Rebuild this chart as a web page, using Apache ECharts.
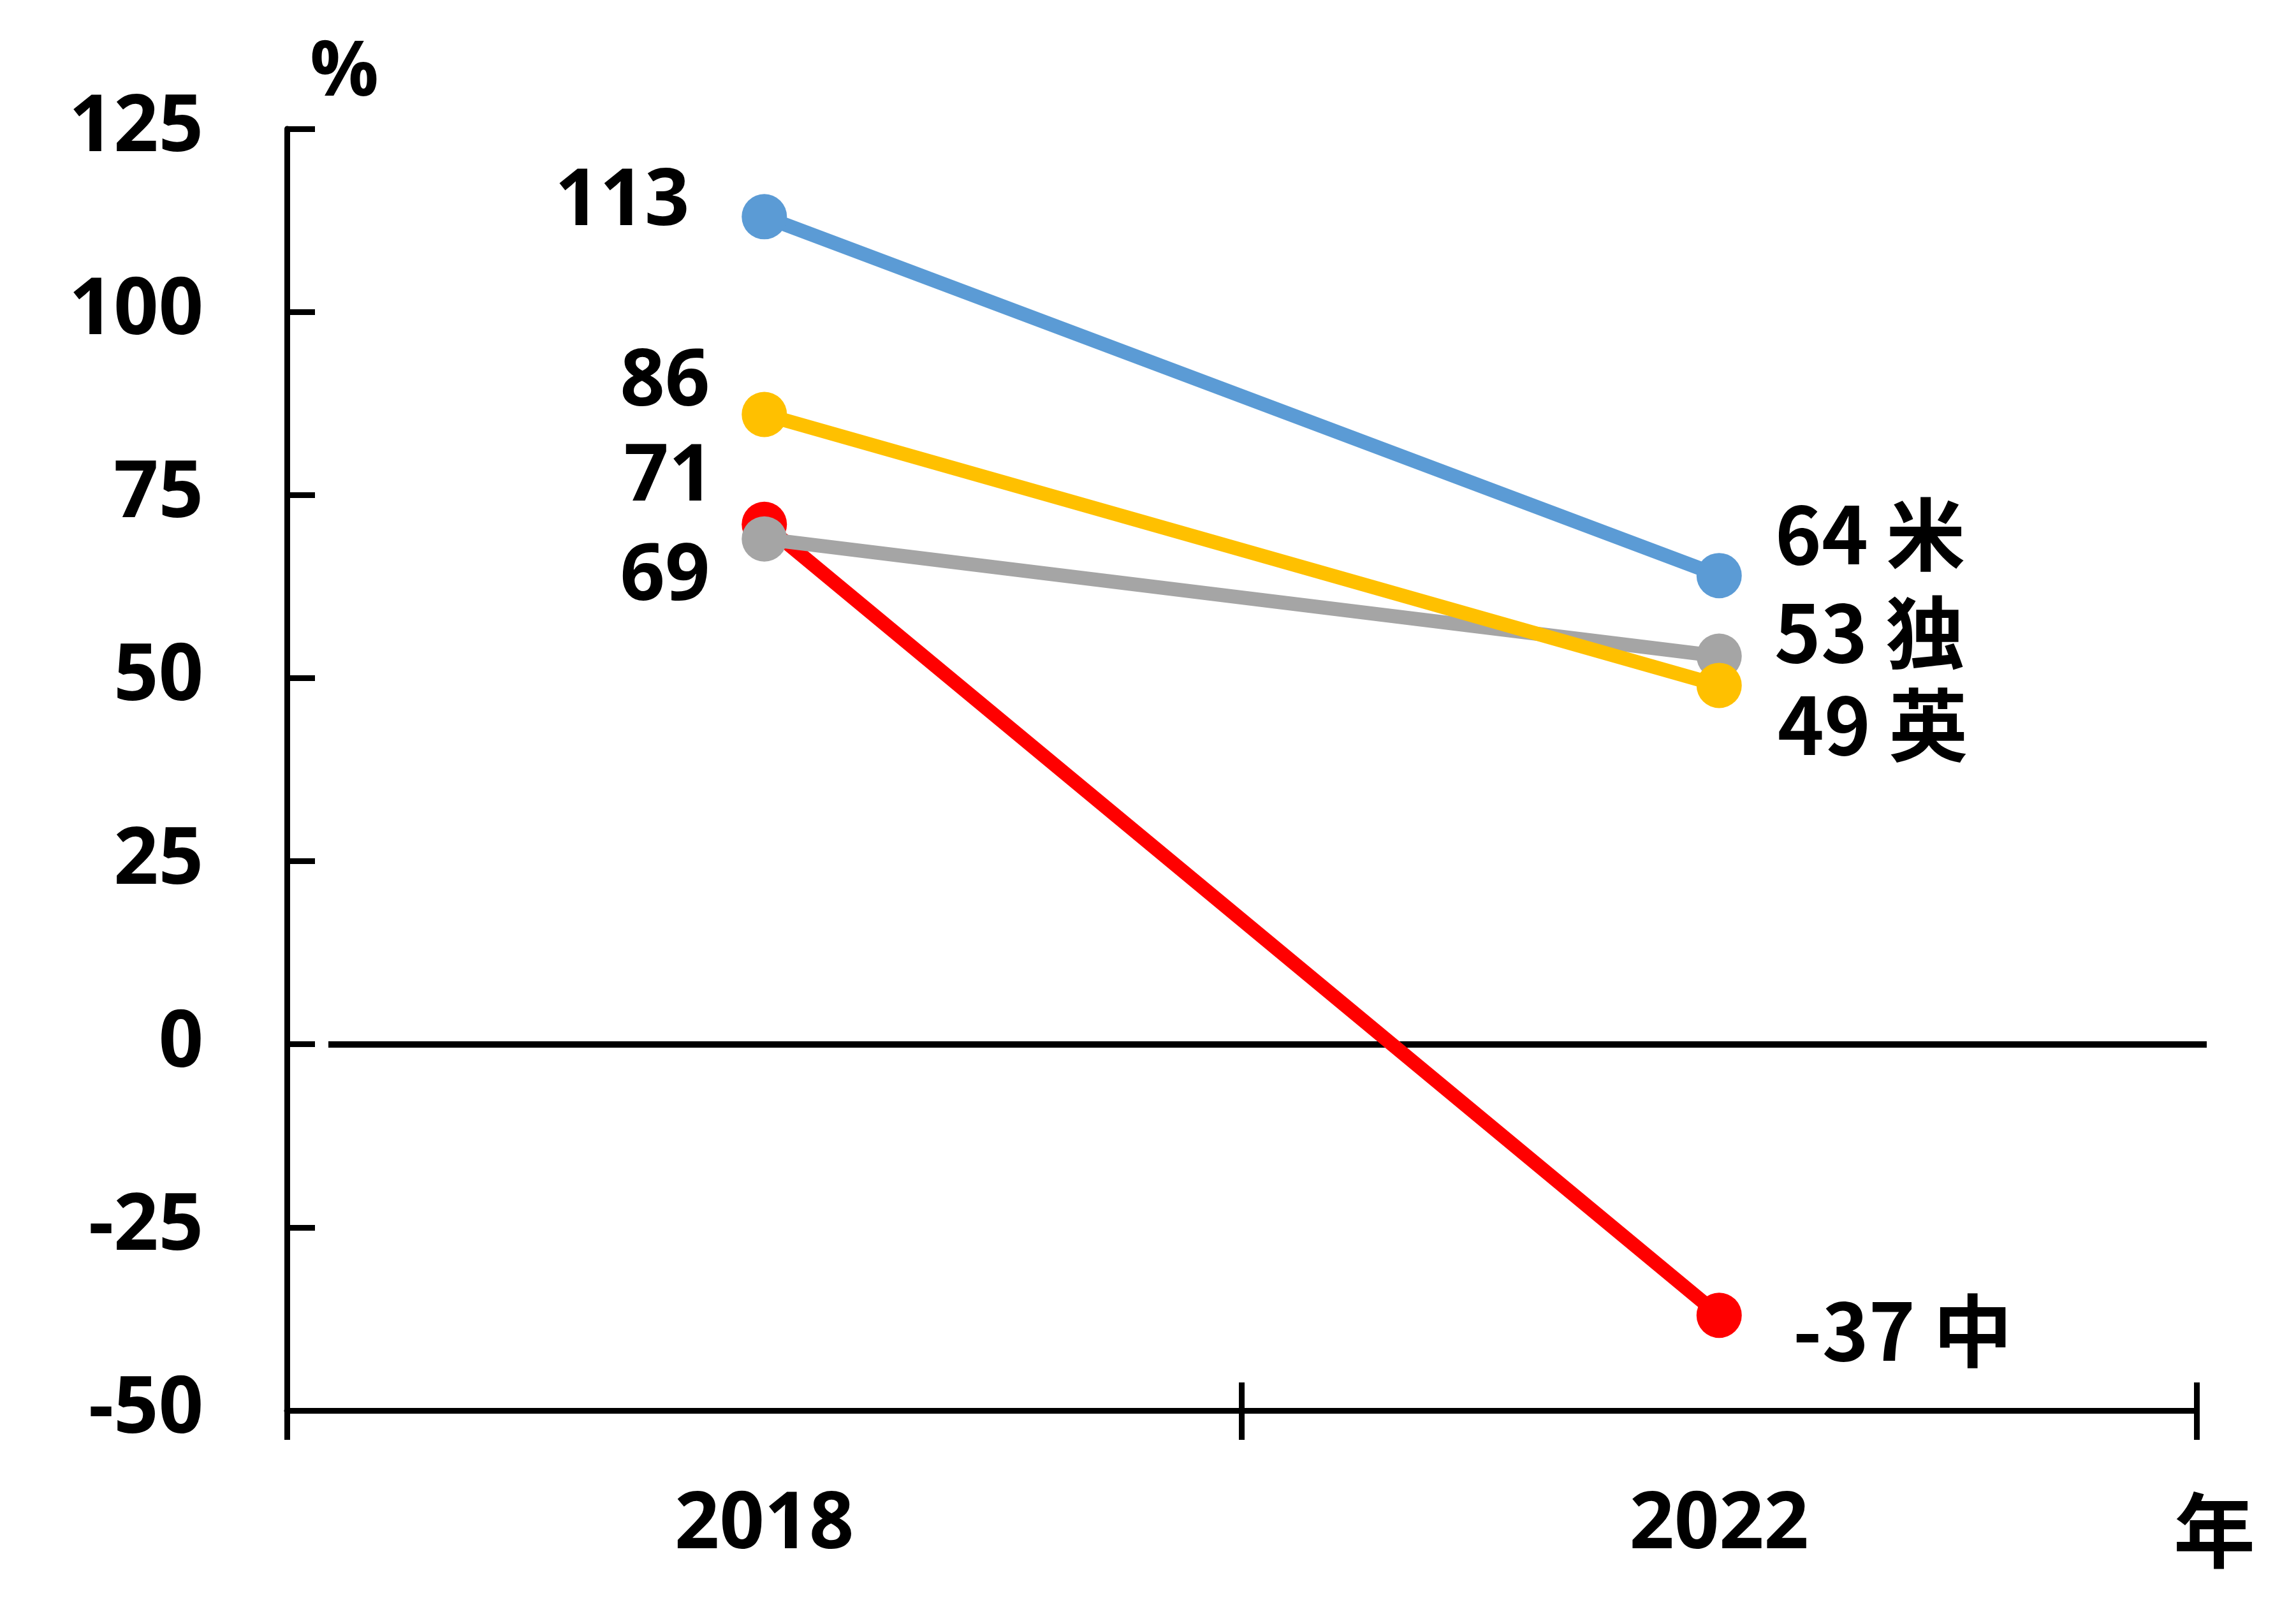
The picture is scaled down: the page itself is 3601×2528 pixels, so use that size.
<!DOCTYPE html>
<html><head><meta charset="utf-8">
<script src="https://cdn.jsdelivr.net/npm/echarts@6/dist/echarts.min.js"></script>
<style>html,body{margin:0;padding:0;background:#fff}#c{width:3601px;height:2528px}</style>
</head><body><div id="c"></div>
<script>
const years = ['2018', '2022'];
const seriesNames = ['中', '独', '英', '米'];
const valChina = [71, -37];
const valGermany = [69, 53];
const valUK = [86, 49];
const valUS = [113, 64];
const yTicks = [-50, -25, 0, 25, 50, 75, 100, 125];

const colors = { '中': '#FF0000', '独': '#A5A5A5', '英': '#FFC000', '米': '#5B9BD5' };
const values = { '中': valChina, '独': valGermany, '英': valUK, '米': valUS };
// label styling per series: [left label, right label]
const labelStyle = {
  '中': [{ distance: 44, dy: -72 }, { distance: 80, dy: 24 }],
  '独': [{ distance: 50, dy: 61 }, { distance: 51, dy: -37 }],
  '英': [{ distance: 50, dy: -49 }, { distance: 56, dy: 62 }],
  '米': [{ distance: 82, dy: -22 }, { distance: 52, dy: -65 }]
};
const numFont = "'Open Sans', 'Noto Sans', sans-serif";
const cjkFont = "'Noto Sans CJK JP', 'Noto Sans CJK SC', sans-serif";

const chart = echarts.init(document.getElementById('c'), null, { renderer: 'canvas' });

const series = seriesNames.map((name, si) => ({
  name: name,
  type: 'line',
  xAxisIndex: 0,
  symbol: 'circle',
  symbolSize: 71,
  lineStyle: { color: colors[name], width: 22 },
  itemStyle: { color: colors[name] },
  z: 3 + si,
  data: values[name].map((v, i) => {
    const ls = labelStyle[name][i];
    return {
      value: v,
      label: i === 0 ? {
        show: true, position: 'left', distance: ls.distance, offset: [0, ls.dy],
        align: 'right', verticalAlign: 'middle',
        formatter: String(v), color: '#000', fontFamily: numFont, fontWeight: 'bold', fontSize: 123
      } : {
        show: true, position: 'right', distance: ls.distance, offset: [0, ls.dy],
        align: 'left', verticalAlign: 'middle',
        formatter: v + ' ' + name, color: '#000', fontFamily: cjkFont, fontWeight: 'bold', fontSize: 124
      }
    };
  }),
  markLine: si === 0 ? {
    silent: true, symbol: 'none', label: { show: false },
    lineStyle: { color: '#000', width: 10, type: 'solid' },
    z: 2,
    data: [[{ yAxis: 0, x: 515 }, { yAxis: 0, x: 3461 }]]
  } : undefined
}));

chart.setOption({
  animation: false,
  backgroundColor: '#fff',
  grid: { left: 450, right: 156, top: 202, bottom: 316, containLabel: false },
  xAxis: [{
    type: 'category', data: years, position: 'bottom', boundaryGap: true,
    axisLine: { show: true, onZero: false, lineStyle: { color: '#000', width: 9 } },
    axisTick: { show: true, inside: true, length: 44, lineStyle: { color: '#000', width: 9 } },
    axisLabel: { margin: 119, color: '#000', fontFamily: numFont, fontWeight: 'bold', fontSize: 123 },
    splitLine: { show: false },
    name: '年', nameLocation: 'end', nameGap: 28,
    nameTextStyle: { color: '#000', fontFamily: cjkFont, fontWeight: 'bold', fontSize: 128, align: 'center', verticalAlign: 'top', padding: [124, 0, 0, 0] }
  }, {
    type: 'category', data: years, position: 'bottom', boundaryGap: true,
    axisLine: { show: false, onZero: false },
    axisTick: { show: true, inside: false, length: 46, lineStyle: { color: '#000', width: 9 } },
    axisLabel: { show: false },
    splitLine: { show: false }
  }],
  yAxis: {
    type: 'value', min: yTicks[0], max: yTicks[yTicks.length - 1], interval: 25,
    axisLine: { show: true, onZero: false, lineStyle: { color: '#000', width: 9 } },
    axisTick: { show: true, inside: true, length: 44, lineStyle: { color: '#000', width: 9 } },
    axisLabel: { margin: 131, color: '#000', fontFamily: numFont, fontWeight: 'bold', fontSize: 123 },
    splitLine: { show: false },
    name: '%', nameLocation: 'end', nameGap: 26,
    nameTextStyle: { color: '#000', fontFamily: numFont, fontWeight: 'bold', fontSize: 120, align: 'left', verticalAlign: 'bottom', padding: [0, 0, 0, 36] }
  },
  series: series
});
</script></body></html>
